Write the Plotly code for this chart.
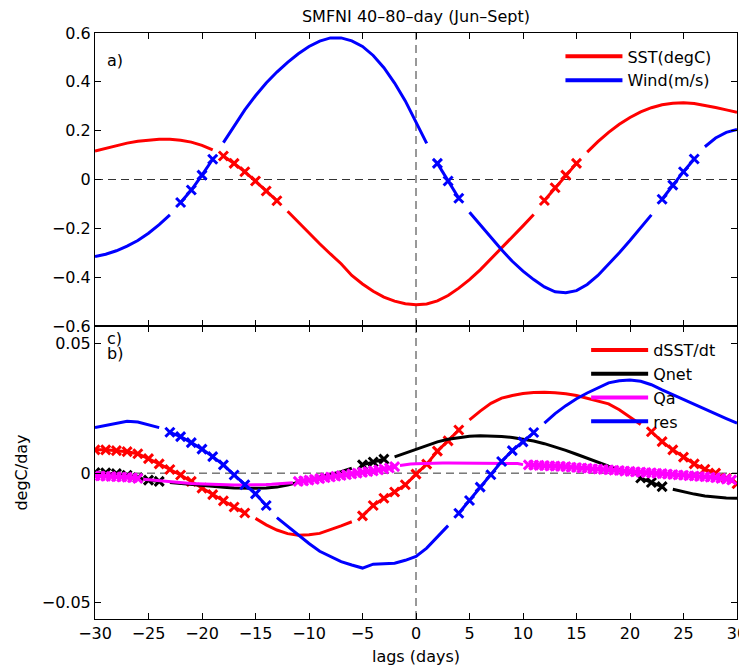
import plotly.graph_objects as go

# ---------------- data ----------------
lags = list(range(-30, 31))

sst = [0.117, 0.128, 0.139, 0.149, 0.157, 0.162, 0.165, 0.165, 0.161, 0.153,
       0.140, 0.121, 0.096, 0.066, 0.032, -0.006, -0.047, -0.087, -0.130, -0.175,
       -0.220, -0.263, -0.305, -0.345, -0.393, -0.428, -0.458, -0.482, -0.498, -0.509,
       -0.513, -0.510, -0.497, -0.475, -0.445, -0.410, -0.370, -0.326, -0.280, -0.235,
       -0.190, -0.143, -0.086, -0.034, 0.018, 0.066, 0.112, 0.155, 0.193, 0.226,
       0.254, 0.277, 0.294, 0.306, 0.312, 0.314, 0.311, 0.304, 0.295, 0.285, 0.275]
wind = [-0.316, -0.306, -0.292, -0.273, -0.250, -0.220, -0.185, -0.145, -0.094, -0.043,
        0.018, 0.083, 0.151, 0.220, 0.285, 0.343, 0.395, 0.440, 0.480, 0.515,
        0.545, 0.567, 0.580, 0.580, 0.568, 0.545, 0.508, 0.458, 0.395, 0.322,
        0.237, 0.148, 0.066, -0.006, -0.077, -0.134, -0.186, -0.238, -0.288, -0.335,
        -0.375, -0.410, -0.440, -0.460, -0.464, -0.455, -0.430, -0.393, -0.348, -0.300,
        -0.250, -0.198, -0.145, -0.081, -0.023, 0.032, 0.084, 0.134, 0.170, 0.193, 0.205]
sst_marked = [(-18, -13), (12, 15)]
wind_marked = [(-22, -19), (2, 4), (23, 26)]

dsst = [0.0090, 0.0090, 0.0087, 0.0083, 0.0075, 0.0056, 0.0036, 0.0014, -0.0007, -0.0032,
        -0.0058, -0.0083, -0.0107, -0.0131, -0.0154, -0.0175, -0.0200, -0.0220, -0.0234, -0.0240,
        -0.0238, -0.0233, -0.0220, -0.0204, -0.0188, -0.0165, -0.0125, -0.0097, -0.0073, -0.0045,
        -0.0004, 0.0035, 0.0085, 0.0125, 0.0167, 0.0206, 0.0240, 0.0270, 0.0290, 0.0300,
        0.0308, 0.0312, 0.0313, 0.0311, 0.0307, 0.0300, 0.0290, 0.0280, 0.0268, 0.0245,
        0.0217, 0.0188, 0.0160, 0.0122, 0.0090, 0.0062, 0.0036, 0.0015, 0.0000, -0.0020, -0.0041]
qnet = [0.0002, 0.0001, -0.0002, -0.0008, -0.0018, -0.0027, -0.0032, -0.0036, -0.0040, -0.0045,
        -0.0049, -0.0052, -0.0055, -0.0057, -0.0058, -0.0058, -0.0057, -0.0054, -0.0046, -0.0036,
        -0.0026, -0.0015, -0.0005, 0.0006, 0.0019, 0.0032, 0.0043, 0.0054, 0.0063, 0.0077,
        0.0092, 0.0107, 0.0121, 0.0131, 0.0138, 0.0143, 0.0145, 0.0144, 0.0142, 0.0138,
        0.0132, 0.0124, 0.0114, 0.0102, 0.0088, 0.0073, 0.0057, 0.0041, 0.0027, 0.0013,
        0.0000, -0.0019, -0.0036, -0.0052, -0.0062, -0.0072, -0.0081, -0.0088, -0.0093, -0.0096, -0.0097]
res = [0.0176, 0.0184, 0.0192, 0.0201, 0.0198, 0.0188, 0.0176, 0.0158, 0.0141, 0.0118,
       0.0093, 0.0064, 0.0032, -0.0007, -0.0045, -0.0080, -0.0125, -0.0172, -0.0206, -0.0240,
       -0.0272, -0.0302, -0.0323, -0.0342, -0.0355, -0.0367, -0.0352, -0.0351, -0.0348, -0.0337,
       -0.0322, -0.0290, -0.0245, -0.0203, -0.0155, -0.0106, -0.0054, -0.0006, 0.0045, 0.0087,
       0.0121, 0.0157, 0.0193, 0.0230, 0.0261, 0.0288, 0.0310, 0.0330, 0.0349, 0.0357,
       0.0360, 0.0355, 0.0342, 0.0322, 0.0303, 0.0284, 0.0266, 0.0249, 0.0230, 0.0211, 0.0193]
dsst_marked = [(-30, -16), (-5, 4), (22, 30)]
qnet_marked = [(-30, -24), (-5, -3), (21, 23)]
res_marked = [(-23, -14), (4, 11)]

# Qa is sampled every half day
qa_lags = [i / 2 for i in range(-60, 61)]
qa = [-0.0010, -0.0011, -0.0012, -0.0013, -0.0014, -0.0015, -0.0016, -0.0018, -0.0020,
      -0.0024, -0.0026, -0.0028, -0.0030, -0.0032, -0.0034, -0.0035, -0.0037, -0.0038, -0.0040,
      -0.0041, -0.0042, -0.0043, -0.0044, -0.0045, -0.0045, -0.0046, -0.0046, -0.0046, -0.0046,
      -0.0046, -0.0045, -0.0045, -0.0044, -0.0043, -0.0042, -0.0041, -0.0039, -0.0037,
      -0.0032, -0.0030, -0.0027, -0.0024, -0.0021, -0.0018, -0.0015, -0.0012, -0.0009, -0.0006,
      -0.0003, 0.0000, 0.0003, 0.0006, 0.0009, 0.0012, 0.0016, 0.0020, 0.0025,
      0.0030, 0.0033, 0.0035, 0.0036, 0.0037, 0.0038, 0.0039, 0.0039, 0.0039, 0.0039,
      0.0039, 0.0039, 0.0039, 0.0039, 0.0039, 0.0039, 0.0039, 0.0039, 0.0039, 0.0039,
      0.0039, 0.0038, 0.0037,
      0.0033, 0.0032, 0.0031, 0.0030, 0.0029, 0.0028, 0.0027, 0.0026, 0.0025, 0.0023,
      0.0022, 0.0020, 0.0019, 0.0017, 0.0016, 0.0014, 0.0013, 0.0011, 0.0010, 0.0008,
      0.0007, 0.0005, 0.0004, 0.0002, 0.0001, -0.0001, -0.0002, -0.0004, -0.0005, -0.0007,
      -0.0008, -0.0010, -0.0011, -0.0013, -0.0014, -0.0016, -0.0018, -0.0020, -0.0023, -0.0026]
qa_marked = [(-30, -26), (-11, -2), (10.5, 30)]

x_ticks = list(range(-30, 31, 5))
top_ticks = [-0.6, -0.4, -0.2, 0, 0.2, 0.4, 0.6]
bot_ticks = [-0.05, 0, 0.05]

# ---------------- helpers ----------------
FONT = "DejaVu Sans"


def runs(xs, ys, marked):
    flags = [any(a <= x <= b for a, b in marked) for x in xs]
    out = []
    cur_x, cur_y, cur_f = [xs[0]], [ys[0]], flags[0]
    for x, y, f in zip(xs[1:], ys[1:], flags[1:]):
        if f == cur_f:
            cur_x.append(x)
            cur_y.append(y)
        else:
            out.append((cur_x, cur_y, cur_f))
            cur_x, cur_y, cur_f = [x], [y], f
    out.append((cur_x, cur_y, cur_f))
    return out


fig = go.Figure()


def add_series(xs, ys, marked, color, name, xa, ya, legend):
    for sx, sy, f in runs(xs, ys, marked):
        fig.add_trace(go.Scatter(
            x=sx, y=sy, xaxis=xa, yaxis=ya,
            mode="lines+markers" if f else "lines",
            line=dict(color=color, width=3),
            marker=dict(symbol="x-thin", size=9, line=dict(color=color, width=3)),
            showlegend=False, hoverinfo="skip"))
    fig.add_trace(go.Scatter(
        x=[None], y=[None], xaxis=xa, yaxis=ya, mode="lines", name=name,
        line=dict(color=color, width=4), legend=legend, showlegend=True))


add_series(lags, sst, sst_marked, "#ff0000", "SST(degC)", "x", "y", "legend")
add_series(lags, wind, wind_marked, "#0000ff", "Wind(m/s)", "x", "y", "legend")
add_series(lags, dsst, dsst_marked, "#ff0000", "dSST/dt", "x2", "y2", "legend2")
add_series(lags, qnet, qnet_marked, "#000000", "Qnet", "x2", "y2", "legend2")
add_series(qa_lags, qa, qa_marked, "#ff00ff", "Qa", "x2", "y2", "legend2")
add_series(lags, res, res_marked, "#0000ff", "res", "x2", "y2", "legend2")

axis_common = dict(showline=True, linecolor="black", linewidth=1, mirror="allticks",
                   ticks="inside", ticklen=6, tickwidth=1, tickcolor="black",
                   showgrid=False, zeroline=False, automargin=False,
                   ticklabeloverflow="allow",
                   tickfont=dict(family=FONT, size=16, color="black"))

dash = dict(color="#333333", width=1, dash="8px,5px")
shapes = [
    dict(type="line", xref="x domain", yref="y", x0=0, x1=1, y0=0, y1=0, line=dash, layer="below"),
    dict(type="line", xref="x", yref="y domain", x0=0, x1=0, y0=0, y1=1, line=dash, layer="below"),
    dict(type="line", xref="x2 domain", yref="y2", x0=0, x1=1, y0=0, y1=0, line=dash, layer="below"),
    dict(type="line", xref="x2", yref="y2 domain", x0=0, x1=0, y0=0, y1=1, line=dash, layer="below"),
]

# the page body adds an 8px offset, margins compensate for it
fig.update_layout(
    width=747, height=672,
    margin=dict(l=87, r=18, t=25, b=61),
    paper_bgcolor="white", plot_bgcolor="white",
    font=dict(family=FONT, size=16, color="black"),
    title=dict(text="SMFNI 40–80–day (Jun–Sept)", x=0.5, xref="paper", xanchor="center",
               y=1 - 8 / 672, yref="container", yanchor="middle",
               font=dict(family=FONT, size=16, color="black")),
    xaxis=dict(axis_common, range=[-30, 30], tickvals=x_ticks, showticklabels=False,
               anchor="y", domain=[0, 1]),
    yaxis=dict(axis_common, range=[-0.6, 0.6], tickvals=top_ticks, anchor="x",
               domain=[0.5, 1]),
    xaxis2=dict(axis_common, range=[-30, 30], tickvals=x_ticks, anchor="y2", domain=[0, 1],
                title=dict(text="lags (days)", standoff=8,
                           font=dict(family=FONT, size=16, color="black"))),
    yaxis2=dict(axis_common, range=[-0.0564, 0.0569], tickvals=bot_ticks, anchor="x2",
                domain=[0, 0.5],
                title=dict(text="degC/day", standoff=10,
                           font=dict(family=FONT, size=16, color="black"))),
    shapes=shapes,
    legend=dict(x=0.725, y=0.989, xanchor="left", yanchor="top", bgcolor="rgba(0,0,0,0)",
                borderwidth=0, itemwidth=57, font=dict(family=FONT, size=16, color="black"),
                tracegroupgap=0),
    legend2=dict(x=0.765, y=0.488, xanchor="left", yanchor="top", bgcolor="rgba(0,0,0,0)",
                 borderwidth=0, itemwidth=57, font=dict(family=FONT, size=16, color="black"),
                 tracegroupgap=0),
    annotations=[
        dict(text="a)", xref="paper", yref="paper", x=0.016, y=(619 - 60) / 586,
             xanchor="left", yanchor="middle", showarrow=False,
             font=dict(family=FONT, size=16, color="black")),
        dict(text="c)", xref="paper", yref="paper", x=0.016, y=(619 - 338) / 586,
             xanchor="left", yanchor="middle", showarrow=False,
             font=dict(family=FONT, size=16, color="black")),
        dict(text="b)", xref="paper", yref="paper", x=0.016, y=(619 - 353) / 586,
             xanchor="left", yanchor="middle", showarrow=False,
             font=dict(family=FONT, size=16, color="black")),
    ],
)

fig.write_html("out.html")
